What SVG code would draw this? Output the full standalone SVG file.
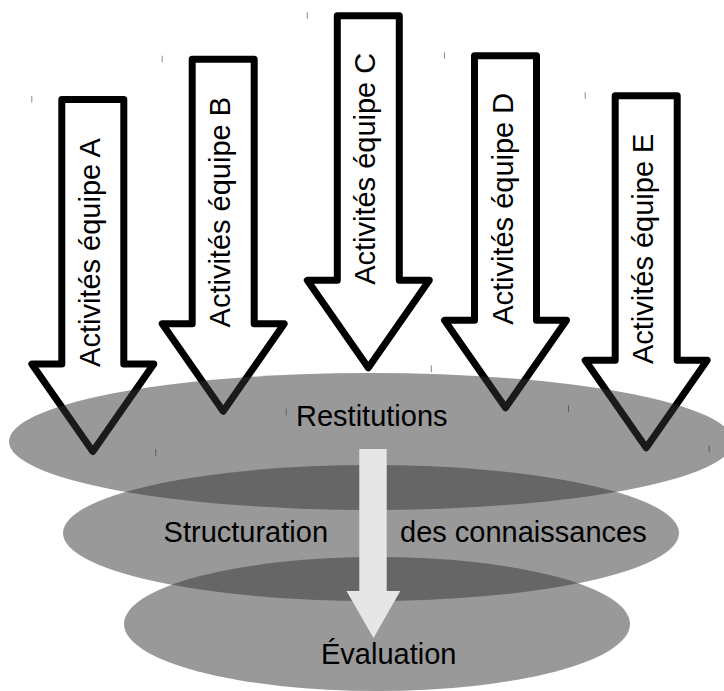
<svg xmlns="http://www.w3.org/2000/svg" xmlns:xlink="http://www.w3.org/1999/xlink" width="724" height="691" viewBox="0 0 724 691">
  <style>
    .team { fill: #ffffff; stroke: #000000; stroke-width: 7; stroke-linejoin: round; }
    .label { font-family: "Liberation Sans", Arial, sans-serif; font-size: 29px; fill: #000000; }
    .tick { stroke: #888888; stroke-width: 1; }
    .layer { fill: #333333; fill-opacity: 0.5; }
    .flow { fill: #e6e6e6; }
  </style>
  <defs>
    <!-- block arrow, origin at top centre of the shaft -->
    <path id="team-arrow" class="team" d="M -31 0 H 31 V 264.5 H 61 L 0 352 L -61 264.5 H -31 Z"/>
    <!-- frame corner marks of a team arrow -->
    <g id="team-marks">
      <line class="tick" x1="-61" y1="-3.5" x2="-61" y2="3"/>
      <line class="tick" x1="63" y1="349.5" x2="63" y2="356.5"/>
    </g>
  </defs>

  <!-- team activity arrows -->
  <g id="team-a" transform="translate(92.8,99.5)">
    <use xlink:href="#team-arrow" href="#team-arrow"/>
    <use xlink:href="#team-marks" href="#team-marks"/>
    <text class="label" transform="translate(7,153) rotate(-90)" text-anchor="middle">Activités équipe A</text>
  </g>
  <g id="team-b" transform="translate(223.2,59.2)">
    <use xlink:href="#team-arrow" href="#team-arrow"/>
    <use xlink:href="#team-marks" href="#team-marks"/>
    <text class="label" transform="translate(7,153) rotate(-90)" text-anchor="middle">Activités équipe B</text>
  </g>
  <g id="team-c" transform="translate(368.3,15.8)">
    <use xlink:href="#team-arrow" href="#team-arrow"/>
    <use xlink:href="#team-marks" href="#team-marks"/>
    <text class="label" transform="translate(7,153) rotate(-90)" text-anchor="middle">Activités équipe C</text>
  </g>
  <g id="team-d" transform="translate(505.5,55.8)">
    <use xlink:href="#team-arrow" href="#team-arrow"/>
    <use xlink:href="#team-marks" href="#team-marks"/>
    <text class="label" transform="translate(7,153) rotate(-90)" text-anchor="middle">Activités équipe D</text>
  </g>
  <g id="team-e" transform="translate(646.2,95.8)">
    <use xlink:href="#team-arrow" href="#team-arrow"/>
    <use xlink:href="#team-marks" href="#team-marks"/>
    <text class="label" transform="translate(7,153) rotate(-90)" text-anchor="middle">Activités équipe E</text>
  </g>

  <!-- translucent stages -->
  <g id="stage-restitutions">
    <ellipse class="layer" cx="371" cy="441.5" rx="362" ry="68.5"/>
  </g>
  <g id="stage-structuration">
    <ellipse class="layer" cx="371" cy="533" rx="308" ry="68"/>
  </g>
  <g id="stage-evaluation">
    <ellipse class="layer" cx="377" cy="624" rx="253" ry="67"/>
  </g>

  <!-- flow through the stages -->
  <g id="connectors">
    <path class="flow" d="M 359.3 449 H 386.7 V 591 H 400.3 L 373.5 638 L 346.5 591 H 359.3 Z"/>
  </g>

  <!-- stage labels -->
  <g id="stage-labels">
    <text class="label" x="296" y="426">Restitutions</text>
    <text class="label" x="163.6" y="541.7">Structuration</text>
    <text class="label" x="400" y="541.7">des connaissances</text>
    <text class="label" x="321" y="664.3">Évaluation</text>
  </g>
</svg>
